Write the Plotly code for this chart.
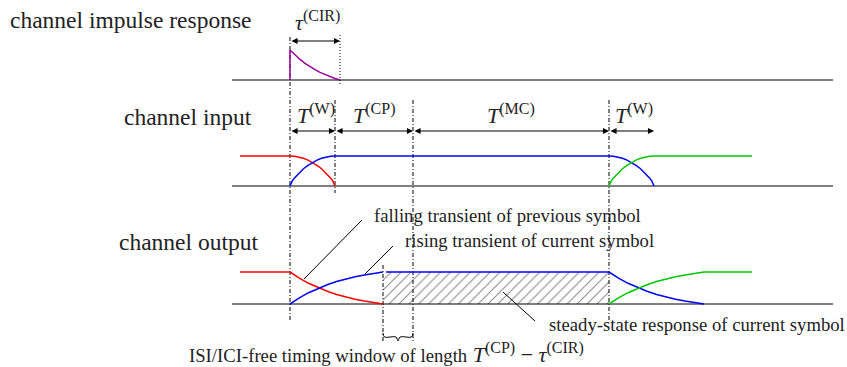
import plotly.graph_objects as go

# ---- timing values of the diagram (time axis units) ----
t_start = 290          # start of current symbol (window start)
T_W = 45               # window length
T_CP = 78              # cyclic prefix length
T_MC = 196             # multicarrier symbol length
tau_CIR = 50           # channel impulse response length
pre_start = 240        # previous symbol visible start
post_end = 752         # next symbol visible end
axis_span = [232, 833] # baseline extent

# ---- levels (vertical, reversed axis) ----
cir_base, cir_peak = 80, 50
in_base, in_high = 186, 156
out_base, out_high = 304, 272

# ---- normalized shape profiles ----
u_pts = [0, 0.05, 0.1, 0.2, 0.3, 0.4, 0.5, 0.6, 0.7, 0.8, 0.9, 1.0]
win_rise = [0, 0.17, 0.27, 0.44, 0.575, 0.69, 0.785, 0.862, 0.922, 0.965, 0.991, 1.0]
u_dec = [0, 0.1, 0.2, 0.3, 0.4, 0.5, 0.6, 0.7, 0.8, 0.9, 1.0]
out_decay = [1.0, 0.809, 0.647, 0.51, 0.397, 0.299, 0.218, 0.148, 0.091, 0.042, 0.0]
cir_decay = [1.0, 0.832, 0.685, 0.556, 0.443, 0.343, 0.255, 0.179, 0.11, 0.051, 0.0]

# labels
big_labels = ["channel impulse response", "channel input", "channel output"]
dur_labels = ["(W)", "(CP)", "(MC)", "(W)"]
note_labels = ["falling transient of previous symbol",
               "rising transient of current symbol",
               "steady-state response of current symbol"]
bottom_label = "ISI/ICI-free timing window of length"

# derived time points
w_end = t_start + T_W
cp_end = w_end + T_CP
mc_end = cp_end + T_MC
w2_end = mc_end + T_W
cir_end = t_start + tau_CIR
out_tr_end = t_start + T_W + tau_CIR - 2
out_fall_end = mc_end + T_W + tau_CIR

RED, BLUE, GREEN, PURPLE = "#ff0000", "#0000ff", "#00c800", "#990099"
TXT = "#222222"
SERIF = "Liberation Serif"
SUP_PX = 16


def math(sym, sup):
    return ("<i>" + sym + "</i><sup><span style='font-size:%dpx'>" % SUP_PX
            + sup + "</span></sup>")


fig = go.Figure()


def line(xs, ys, color="black", width=1.0, dash=None, shape="linear"):
    fig.add_trace(go.Scatter(x=xs, y=ys, mode="lines", hoverinfo="skip",
                             line=dict(color=color, width=width, dash=dash, shape=shape)))


def seg(x0, x1, us, prof, y_lo, y_hi, color, mirror=False, invert=False, width=1.5):
    if mirror:
        xs = [x1 - u * (x1 - x0) for u in us]
    else:
        xs = [x0 + u * (x1 - x0) for u in us]
    vals = [1 - p for p in prof] if invert else prof
    ys = [y_lo + p * (y_hi - y_lo) for p in vals]
    line(xs, ys, color, width)


# hatched steady-state area
fig.add_trace(go.Scatter(x=[out_tr_end, mc_end, mc_end, out_tr_end, out_tr_end],
                         y=[out_base, out_base, out_high, out_high, out_base],
                         mode="lines", fill="toself", hoverinfo="skip",
                         line=dict(width=0, color="rgba(0,0,0,0)"),
                         fillcolor="white",
                         fillpattern=dict(shape="/", fgcolor="#222222", bgcolor="white",
                                          size=7, solidity=0.17)))

# baselines
for yb in (cir_base, in_base, out_base):
    line(axis_span, [yb, yb], "black", 1.1)

# vertical guide lines
DD = "4px,2px,1px,2px"
line([t_start, t_start], [37, 320], "black", 1, DD)
line([cir_end, cir_end], [35, 86], "black", 1, "1px,2px")
line([w_end, w_end], [100, 193], "black", 1, DD)
line([cp_end, cp_end], [100, 342], "black", 1, DD)
line([mc_end, mc_end], [100, 320], "black", 1, DD)
line([out_tr_end, out_tr_end], [265, 343], "black", 1, DD)

# channel impulse response
line([t_start, t_start], [cir_base, cir_peak], PURPLE, 1.5)
seg(t_start, cir_end, u_dec, cir_decay, cir_base, cir_peak, PURPLE)

# channel input
line([pre_start, t_start], [in_high, in_high], RED, 1.5)
seg(t_start, w_end, u_pts, win_rise, in_base, in_high, RED, mirror=True)
seg(t_start, w_end, u_pts, win_rise, in_base, in_high, BLUE)
line([w_end, mc_end], [in_high, in_high], BLUE, 1.5)
seg(mc_end, w2_end, u_pts, win_rise, in_base, in_high, BLUE, mirror=True)
seg(mc_end, w2_end, u_pts, win_rise, in_base, in_high, GREEN)
line([w2_end, post_end], [in_high, in_high], GREEN, 1.5)

# channel output
line([pre_start, t_start], [out_high, out_high], RED, 1.5)
seg(t_start, out_tr_end, u_dec, out_decay, out_base, out_high, RED)
seg(t_start, out_tr_end, u_dec, out_decay, out_base, out_high, BLUE, invert=True)
line([out_tr_end + 3, mc_end], [out_high, out_high], BLUE, 1.5)
seg(mc_end, out_fall_end, u_dec, out_decay, out_base, out_high, BLUE)
seg(mc_end, out_fall_end, u_dec, out_decay, out_base, out_high, GREEN, invert=True)
line([out_fall_end, post_end], [out_high, out_high], GREEN, 1.5)

# leader lines for notes
line([362, 304], [220, 279], "black", 1)
line([393, 365], [246, 274], "black", 1)
line([503, 535], [292, 321], "black", 1)

# brace
line([out_tr_end, out_tr_end + 1.5, out_tr_end + 13, (out_tr_end + cp_end) / 2,
      cp_end - 13, cp_end - 1.5, cp_end],
     [333, 337, 337, 341, 337, 337, 333], "black", 1, shape="spline")

ann = []
# duration arrows
arrow_rows = [(t_start, cir_end, 41)] + [(a, b, 131) for a, b in
              [(t_start, w_end), (w_end, cp_end), (cp_end, mc_end), (mc_end, w2_end)]]
for a, b, yy in arrow_rows:
    ann.append(dict(x=b, y=yy, ax=a, ay=yy, xref="x", yref="y", axref="x", ayref="y",
                    text="", showarrow=True, arrowhead=2, arrowside="end+start",
                    arrowsize=1.1, arrowwidth=1.1, arrowcolor="black",
                    standoff=0, startstandoff=0))

# duration labels
ann.append(dict(x=(t_start + cir_end) / 2 + 2, y=21, text=math("τ", "(CIR)"),
                showarrow=False, font=dict(family=SERIF, size=22, color=TXT)))
for (a, b), lab, dx in zip([(t_start, w_end), (w_end, cp_end), (cp_end, mc_end), (mc_end, w2_end)],
                           dur_labels, [3, 0, 0, 2]):
    ann.append(dict(x=(a + b) / 2 + dx, y=114, text=math("T", lab),
                    showarrow=False, font=dict(family=SERIF, size=22, color=TXT)))

# big row labels
for lab, xx, yy in zip(big_labels, [8, 122, 117], [20, 117, 242]):
    ann.append(dict(x=xx, y=yy, text=lab, xanchor="left", showarrow=False,
                    font=dict(family=SERIF, size=23.5, color=TXT)))

# notes
for lab, xx, yy in zip(note_labels, [372, 403, 547], [215, 240, 324]):
    ann.append(dict(x=xx, y=yy, text=lab, xanchor="left", showarrow=False,
                    font=dict(family=SERIF, size=18.7, color=TXT)))

ann.append(dict(x=187, y=353,
                text="<span style='font-size:18.7px'>" + bottom_label + "</span> "
                     + math("T", "(CP)") + " − " + math("τ", "(CIR)"),
                xanchor="left", showarrow=False, font=dict(family=SERIF, size=22, color=TXT)))

fig.update_layout(width=847, height=367, margin=dict(l=0, r=0, t=0, b=0),
                  paper_bgcolor="white", plot_bgcolor="white", showlegend=False,
                  xaxis=dict(visible=False, range=[0, 847]),
                  yaxis=dict(visible=False, range=[367, 0]),
                  annotations=ann)

fig.write_html("out.html", config={"displayModeBar": False})
